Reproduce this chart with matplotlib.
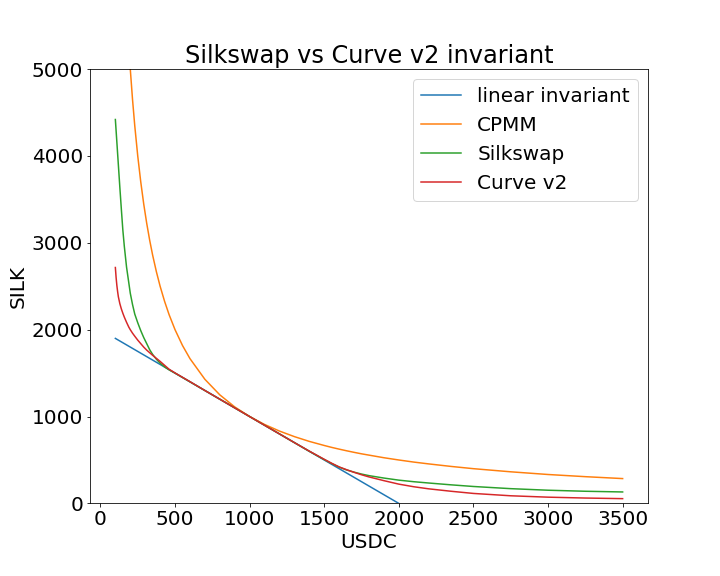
import matplotlib
matplotlib.use("Agg")
import matplotlib.pyplot as plt

# Shared USDC grid for the curved invariants
usdc = [100, 105, 110, 115, 120, 130, 140, 150, 160, 175, 190, 200, 215, 230, 250, 270, 290, 310,
        330, 350, 375, 400, 430, 460, 500, 550, 600, 700, 800, 900, 1000, 1100, 1200, 1300, 1400,
        1500, 1550, 1600, 1650, 1700, 1750, 1800, 1900, 2000, 2100, 2200, 2350, 2500, 2750,
        3000, 3250, 3500]

cpmm = [10000, 9524, 9091, 8696, 8333, 7692, 7143, 6667, 6250, 5714, 5263, 5000, 4651, 4348,
        4000, 3704, 3448, 3226, 3030, 2857, 2667, 2500, 2326, 2174, 2000, 1818, 1667, 1429, 1250,
        1111, 1000, 909, 833, 769, 714, 667, 645, 625, 606, 588, 571, 556, 526, 500, 476, 455,
        426, 400, 364, 333, 308, 286]

silkswap = [4420, 4290, 4160, 4030, 3900, 3640, 3390, 3150, 2960, 2720, 2540, 2420, 2290, 2180,
            2080, 1990, 1910, 1840, 1770, 1715, 1660, 1615, 1572, 1538, 1500, 1450, 1400, 1300,
            1200, 1100, 1000, 900, 800, 700, 600, 505, 460, 418, 385, 360, 338, 320, 292, 268,
            250, 235, 214, 195, 170, 152, 140, 132]

curve_v2 = [2716, 2600, 2510, 2440, 2380, 2300, 2240, 2190, 2145, 2085, 2030, 2000, 1960, 1925,
            1880, 1840, 1800, 1765, 1735, 1705, 1670, 1635, 1590, 1545, 1502, 1452, 1402, 1300,
            1200, 1100, 1000, 900, 800, 700, 602, 508, 462, 420, 388, 358, 330, 305, 262, 222,
            192, 168, 140, 115, 88, 72, 62, 55]

linear_x = [100, 2000]
linear_y = [1900, 0]

fig = plt.figure(figsize=(10, 8), dpi=72)
ax = fig.add_subplot(111)
fig.subplots_adjust(left=0.125, right=0.9, top=0.88, bottom=0.126)

ax.plot(linear_x, linear_y, label="linear invariant")
ax.plot(usdc, cpmm, label="CPMM")
ax.plot(usdc, silkswap, label="Silkswap")
ax.plot(usdc, curve_v2, label="Curve v2")

ax.set_ylim(0, 5000)
ax.set_title("Silkswap vs Curve v2 invariant", fontsize=24)
ax.set_xlabel("USDC", fontsize=20)
ax.set_ylabel("SILK", fontsize=20)
ax.tick_params(labelsize=20)
ax.legend(fontsize=20, loc="upper right")

fig.savefig("out.png", dpi=72)
